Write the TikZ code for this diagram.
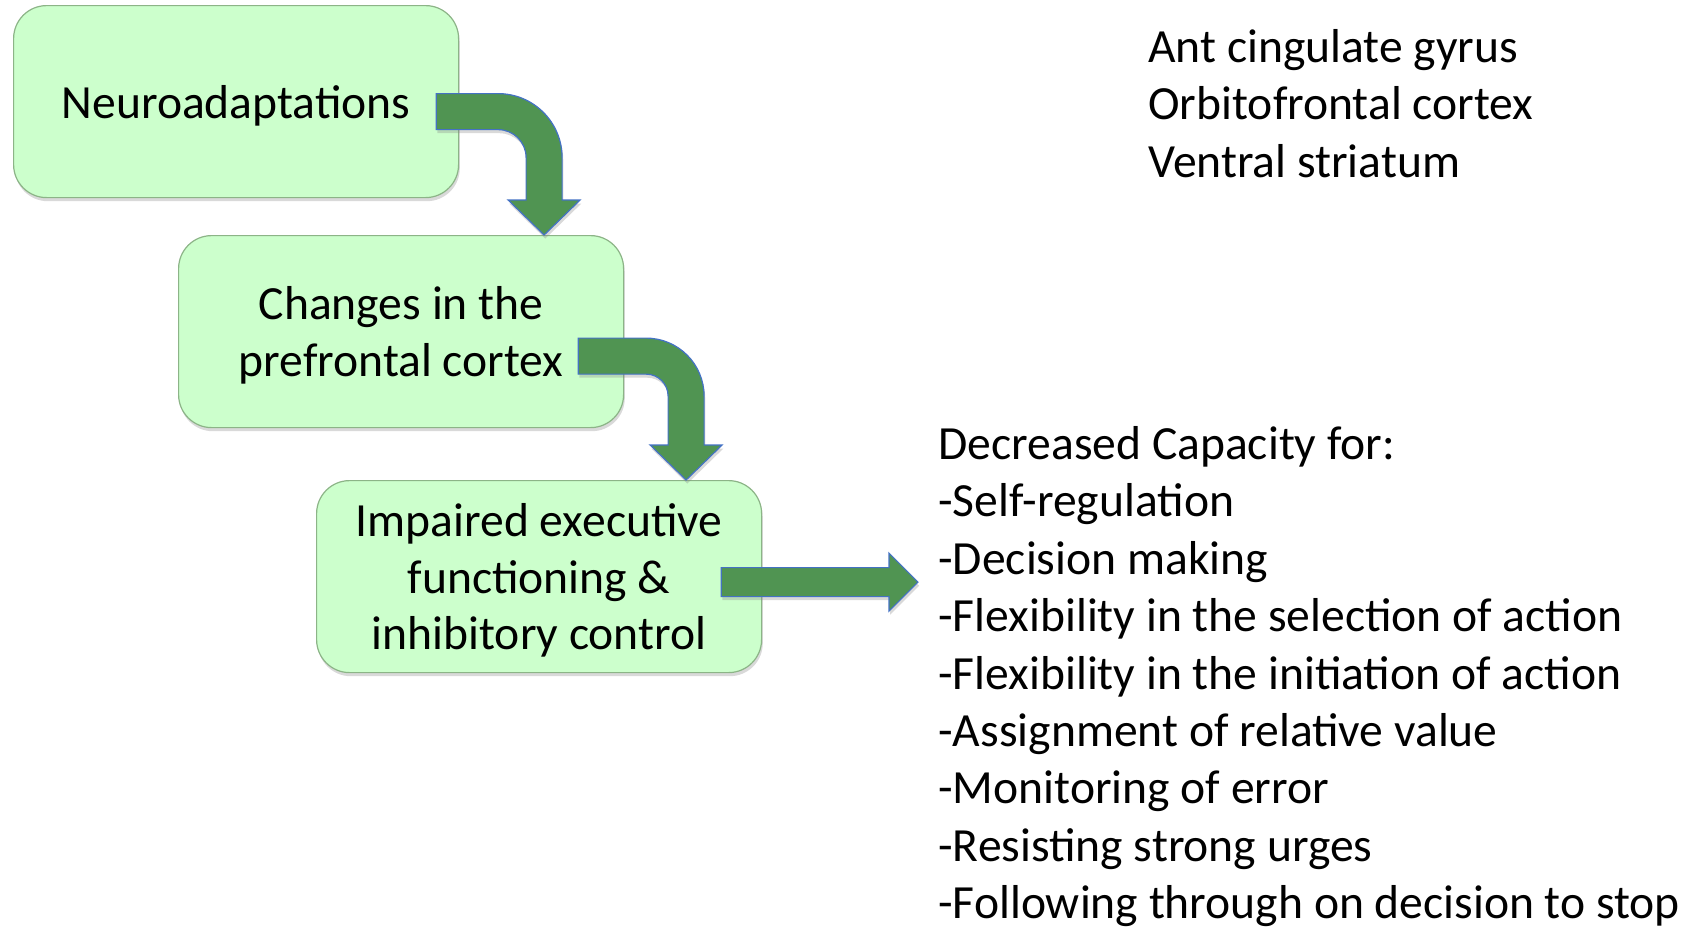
\documentclass[tikz,border=0pt]{standalone}
\usepackage{fontspec}
\setmainfont{Carlito}
\usetikzlibrary{positioning, calc, shadows}

\definecolor{boxfill}{RGB}{204,255,204}
\definecolor{boxline}{RGB}{140,180,135}
\definecolor{arrowfill}{RGB}{80,148,82}
\definecolor{arrowline}{RGB}{68,114,196}

\begin{document}
\begin{tikzpicture}[x=0.5pt, y=-0.5pt,
  stage/.style={draw=boxline, fill=boxfill, line width=0.6pt, rounded corners=16.5pt,
    minimum width=222.5pt, minimum height=96pt, align=center, anchor=north west,
    font=\fontsize{23.8}{28.4}\selectfont, text depth=0pt,
    drop shadow={shadow xshift=0.6pt, shadow yshift=-1.8pt, opacity=0.3}},
  bigarrow/.style={fill=arrowfill, draw=arrowline, line width=0.6pt,
    drop shadow={shadow xshift=0.6pt, shadow yshift=-1.8pt, opacity=0.3}},
  regions/.style={align=left, anchor=north west, inner sep=0pt,
    font=\fontsize{23.8}{28.7}\selectfont}]

  \useasboundingbox (0,0) rectangle (1704,927);

  % the three stages
  \node[stage] (neuro) at (13,5) {Neuroadaptations};
  \node[stage] (prefrontal) at (178,235) {Changes in the\\prefrontal cortex};
  \node[stage] (impaired) at (316,480) {Impaired executive\\functioning \&\\inhibitory control};

  % texts on the right
  \node[regions] (areas) at (1148,29) {Ant cingulate gyrus\\Orbitofrontal cortex\\Ventral striatum};
  \node[regions] (capacity) at (938,426) {Decreased Capacity for:\\-Self-regulation\\-Decision making\\-Flexibility in the selection of action\\-Flexibility in the initiation of action\\-Assignment of relative value\\-Monitoring of error\\-Resisting strong urges\\-Following through on decision to stop};

  % bent arrow 1
  \coordinate (a1s) at ($(neuro.east)+(-23,10)$);
  \coordinate (a1t) at ($(prefrontal.north)+(143,0)$);
  \coordinate (a1c) at (a1t |- a1s);
  \path[bigarrow] ($(a1s)+(0,-18)$) -- ($(a1c)+(18-64,-18)$)
    arc[start angle=270, end angle=360, radius=64]
    -- ($(a1t)+(18,-35)$) -- ($(a1t)+(36,-35)$) -- (a1t)
    -- ($(a1t)+(-36,-35)$) -- ($(a1t)+(-18,-35)$) -- ($(a1c)+(-18,18+28)$)
    arc[start angle=360, end angle=270, radius=28]
    -- ($(a1s)+(0,18)$) -- cycle;

  % bent arrow 2
  \coordinate (a2s) at ($(prefrontal.east)+(-46,24.5)$);
  \coordinate (a2t) at ($(impaired.north)+(147,0)$);
  \coordinate (a2c) at (a2t |- a2s);
  \path[bigarrow] ($(a2s)+(0,-18)$) -- ($(a2c)+(18-58,-18)$)
    arc[start angle=270, end angle=360, radius=58]
    -- ($(a2t)+(18,-35)$) -- ($(a2t)+(36,-35)$) -- (a2t)
    -- ($(a2t)+(-36,-35)$) -- ($(a2t)+(-18,-35)$) -- ($(a2c)+(-18,18+22)$)
    arc[start angle=360, end angle=270, radius=22]
    -- ($(a2s)+(0,18)$) -- cycle;

  % straight arrow 3
  \coordinate (a3s) at ($(impaired.east)+(-41,5.5)$);
  \coordinate (a3t) at ($(capacity.north west)+(-20,156)$);
  \path[bigarrow] ($(a3s)+(0,-14.5)$) -- ($(a3t |- a3s)+(-29,-14.5)$)
    -- ($(a3t |- a3s)+(-29,-29)$) -- (a3t |- a3s) -- ($(a3t |- a3s)+(-29,29)$)
    -- ($(a3t |- a3s)+(-29,14.5)$) -- ($(a3s)+(0,14.5)$) -- cycle;
\end{tikzpicture}
\end{document}
